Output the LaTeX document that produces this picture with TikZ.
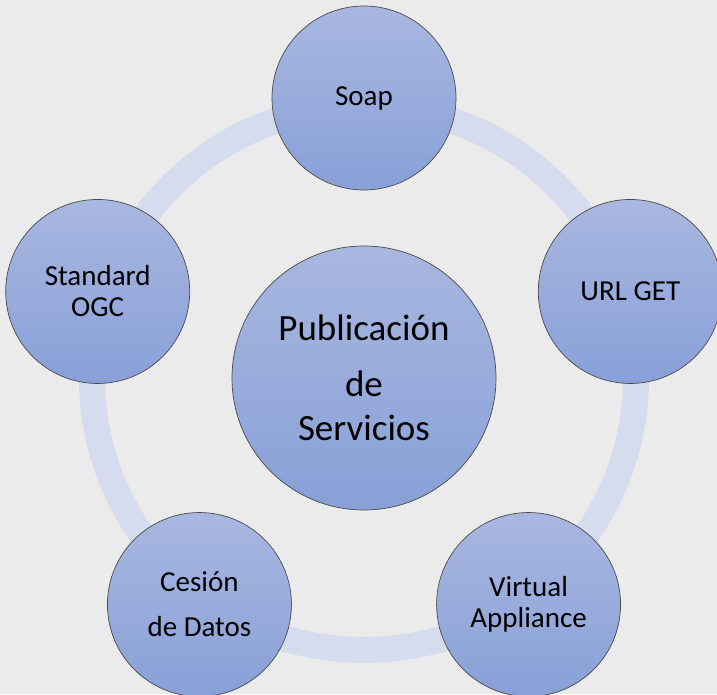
\documentclass[tikz,border=0pt]{standalone}
\usepackage{fontspec}
\setmainfont{Carlito}
\definecolor{pagegray}{HTML}{EBEBEB}
\definecolor{ringblue}{HTML}{D5DCEE}
\definecolor{bubbletop}{HTML}{A9B7E0}
\definecolor{bubblebottom}{HTML}{88A0D8}
\definecolor{bubbleedge}{HTML}{4A4A4A}
\begin{document}
\begin{tikzpicture}[x=1pt,y=1pt,
    bubble/.style={circle,draw=bubbleedge,line width=0.7pt,
      top color=bubbletop,bottom color=bubblebottom,
      minimum size=184pt,inner sep=0pt,align=center,
      font=\fontsize{29}{31}\selectfont},
    hub/.style={bubble,minimum size=264pt,font=\fontsize{37}{44}\selectfont}]
  \fill[pagegray] (-364,-316) rectangle (353,378);
  \clip (-364,-316) rectangle (353,378);
  %% ring behind the bubbles
  \draw[ringblue,line width=26pt] (0,0) circle (272);
  %%
  \node[hub] (hub) at (0,0) {Publicación\\[12pt]de\\Servicios};
  \node[bubble] (soap) at (90:280) {Soap};
  \node[bubble] (urlget) at (18:280) {URL GET};
  \node[bubble] (virtual) at (-54:280) {Virtual\\Appliance};
  \node[bubble] (cesion) at (-126:280) {Cesión\\[14pt]de Datos};
  \node[bubble] (ogc) at (162:280) {Standard\\OGC};
\end{tikzpicture}
\end{document}
